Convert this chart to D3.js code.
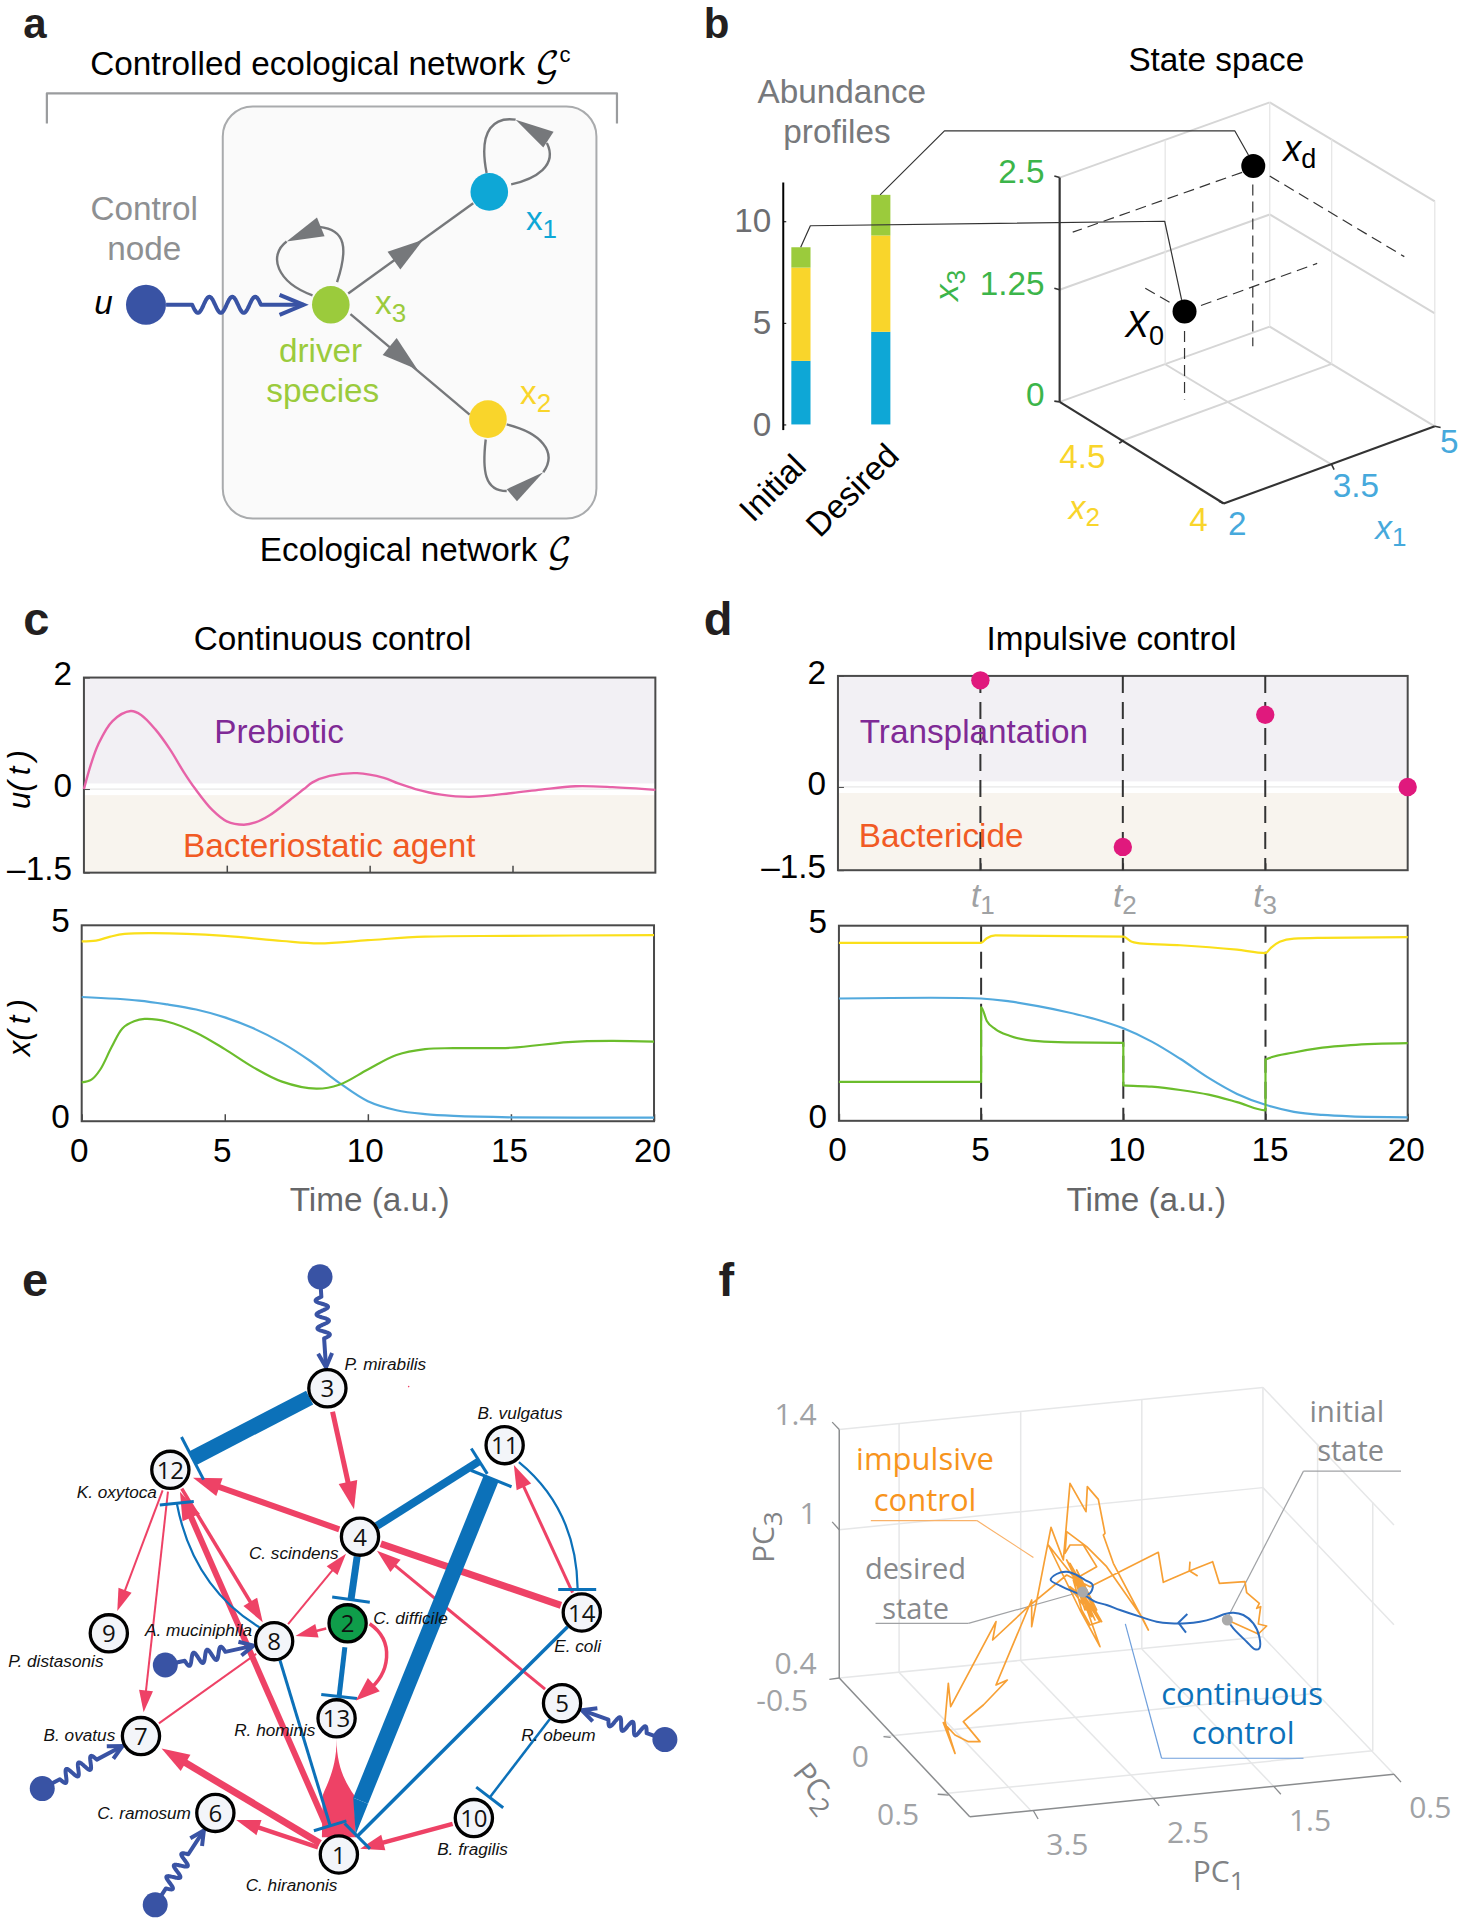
<!DOCTYPE html>
<html><head><meta charset="utf-8">
<script src="https://cdn.jsdelivr.net/npm/d3@7"></script>
<style>html,body{margin:0;padding:0;background:#fff}svg{display:block}text{font-family:"Liberation Sans",Arial,sans-serif}</style>
</head><body><div id="chart"></div>
<script>
// ---------- data ----------
// c: continuous control
const contUT=[0,0.25,0.5,1,1.64,2,2.5,3,3.5,3.9,4.5,5,5.6,6,6.5,7.2,7.7,8,8.6,9.56,10.5,11,11.6,12.5,13.5,15,16,17.2,18.5,20];
const contU=[0,0.45,0.8,1.22,1.40,1.33,1.07,0.72,0.3,0,-0.38,-0.58,-0.64,-0.6,-0.47,-0.2,0,0.12,0.235,0.285,0.2,0.1,0,-0.1,-0.14,-0.07,-0.01,0.05,0.035,-0.015];
const contYellowT=[0,0.5,1,1.5,2.5,5,7,8.3,10,12,15,20];
const contYellow=[4.59,4.61,4.71,4.78,4.80,4.73,4.6,4.54,4.62,4.71,4.73,4.75];
const contBlueT=[0,2,3,4,5,6,7,8,9,10,11,12,13,15,20];
const contBlue=[3.17,3.08,2.98,2.85,2.65,2.37,2.0,1.53,0.98,0.51,0.28,0.18,0.135,0.1,0.09];
const contGreenT=[0,0.34,0.65,1.05,1.43,1.83,2.2,3,4,5,6,7,8.2,9,10,11,12,13,15,17,18.5,20];
const contGreen=[0.99,1.06,1.32,1.9,2.375,2.55,2.61,2.54,2.26,1.84,1.375,1.01,0.83,0.93,1.32,1.69,1.84,1.865,1.875,2.02,2.05,2.03];
// d: impulsive control
const impT=[5,10,15,20];
const impU=[1.92,-1.08,1.3,0];
const impYellowT=[0,5,5.2,5.5,10,10.3,10.7,12,14,15,15.2,15.5,16,17,20];
const impYellow=[4.56,4.56,4.68,4.75,4.72,4.59,4.54,4.5,4.385,4.30,4.44,4.59,4.67,4.69,4.71];
const impBlueT=[0,5,6,7,8,9,10,11,12,13,14,15,16,17,18,20];
const impBlue=[3.135,3.135,3.06,2.94,2.79,2.61,2.37,2.03,1.59,1.1,0.69,0.41,0.23,0.15,0.115,0.09];
const impGreenT=[0,5,5,5.2,5.5,6,7,8,10,10,11,12,13,14,15,15,16,17,18,20];
const impGreen=[1,1,2.91,2.56,2.35,2.18,2.04,2.01,2,0.906,0.875,0.79,0.67,0.48,0.27,1.57,1.75,1.875,1.94,1.99];
// b: abundance bars
const barCategories=["Initial","Desired"];
const barBlue=[3.13,4.56], barYellow=[4.59,4.74], barGreen=[1.0,2.0];
// e: network (layout in crop units; ids 1..14)
const nodeIds=[1,2,3,4,5,6,7,8,9,10,11,12,13,14];
const nodeX=[738,757,713,784,1224,469,307,597,237,1032,1099,371,733,1267];
const nodeY=[1417,884,342,684,1068,1321,1144,925,907,1333,473,530,1103,859];
const speciesNames=["C. hiranonis","C. difficile","P. mirabilis","C. scindens","R. obeum","C. ramosum","B. ovatus","A. muciniphila","P. distasonis","B. fragilis","B. vulgatus","K. oxytoca","R. hominis","E. coli"];
const speciesX=[535,813,750,542,1135,212,95,316,18,952,1040,167,510,1207];
const speciesY=[1502,885,300,736,1155,1336,1155,912,985,1418,412,596,1143,950];
// from,to,width,startGap,endGap
const redEdges=[[3,4,5,24,28],[4,12,6,22,24],[14,4,7,22,22],[14,11,3,22,22],[5,4,3,22,22],[12,9,2,22,24],[12,7,2,22,24],[12,8,3.5,22,22],[1,12,6,26,24],[8,4,2,22,22],[7,8,2,22,22],[2,8,2.5,22,22],[1,7,7,22,24],[1,6,4.5,22,22],[10,1,4.5,22,22]];
const redNoHead=[[14,4],[7,8]];
const blueEdges=[[3,12,15.5,20,25],[4,11,8,20,30],[1,11,16,58,36],[4,2,7,20,24],[2,13,5,24,22],[14,1,3.5,20,26],[5,10,2.5,20,26],[8,1,3,20,30]];
const blueBarHalf=[24,15,22,19,18,18,17,17];
const controlX=[697,360,92,338,1448], controlY=[85,980,1265,1533,1152], controlTo=[3,8,7,6,5];
// f: trajectories (crop units)
const trajBlueX=[982,1000,1040,1065,1078,1078,1060,1030,1000,975,940,900,860,810,770,720,660,620,585,560,520,480,452,470,500,530,555,578,570,550];
const trajBlueY=[600,625,665,688,685,650,610,585,578,582,595,605,610,610,605,590,570,555,545,530,515,497,480,462,455,465,480,495,520,525];
const trajOrangeX=[982,1075,1100,1075,1082,1070,1078,1040,1035,958,938,870,790,775,570,500,385,278,288,152,145,135,165,130,165,205,240,190,250,322,288,395,395,453,490,510,558,562,595,615,610,640,745,725,620,560,500,495,510,550,590,520,600,570,545,520,605,500,585,510,590,530,570,520,560,445,540,600,530,565,515,555,525,575,510,560,535];
const trajOrangeY=[600,642,618,612,560,565,550,518,485,490,425,452,487,397,500,465,560,660,605,860,790,905,1000,908,945,965,965,905,855,780,795,540,620,322,420,190,275,200,238,340,345,430,630,590,440,380,335,400,375,375,440,480,605,615,570,480,605,420,600,430,570,450,540,470,520,375,570,680,480,560,450,570,470,590,500,540,510];
const greyDotX=[982,548], greyDotY=[600,516];

// ---------- set-up ----------
const W=1459,H=1920,FS=33.3;
const svg=d3.select("#chart").append("svg").attr("width",W).attr("height",H).attr("viewBox",[0,0,W,H]);
const frame=(x0,y0,w,h)=>({x:d3.scaleLinear([0,1568],[x0,x0+w]),y:d3.scaleLinear([0,1568],[y0,y0+h])});
const fa=frame(0,0,700,590),fb=frame(700,0,759,590),fc=frame(0,600,700,640),fd=frame(700,600,759,640),fe=frame(0,1240,720,680),ff=frame(720,1240,739,680);
const ft={x:d3.scaleLinear([0,1200],[900,1300]),y:d3.scaleLinear([0,1020],[1420,1760])};
const BLUE="#0ea7d6",YEL="#f9d52b",GRN="#9bcb3c",NAVY="#3953a4",RED="#ee4266",NET="#0c71b9";
const HV='"Liberation Sans",Arial,sans-serif',OS='"Open Sans",sans-serif';

function txt(f,x,y,s,o={}){
  const px=f.x(x),py=f.y(y);
  const t=svg.append("text").attr("x",px).attr("y",py).text(s)
    .attr("font-size",o.size||FS).attr("fill",o.fill||"#000")
    .attr("text-anchor",o.anchor||"start").style("font-family",o.family||HV);
  if(o.italic)t.attr("font-style","italic");
  if(o.bold)t.attr("font-weight","bold");
  if(o.rotate!=null)t.attr("transform",`rotate(${o.rotate},${px},${py})`);
  if(o.sub){t.append("tspan").attr("dy",o.subDy||8).attr("font-size",o.subSize||(o.size||FS)*0.72).attr("font-style",o.subItalic?"italic":"normal").text(o.sub);}
  return t;
}
function seg(f,arr,stroke,w,dash){
  svg.append("g").selectAll("line").data(arr).join("line")
    .attr("x1",d=>f.x(d[0])).attr("y1",d=>f.y(d[1])).attr("x2",d=>f.x(d[2])).attr("y2",d=>f.y(d[3]))
    .attr("stroke",stroke).attr("stroke-width",w).attr("stroke-dasharray",dash||null);
}
function poly(f,pts,stroke,w){
  svg.append("path").attr("d",d3.line().x(d=>f.x(d[0])).y(d=>f.y(d[1]))(pts)).attr("fill","none").attr("stroke",stroke).attr("stroke-width",w).attr("stroke-linejoin","round");
}
function head(px,py,qx,qy,len,hw,fill){ // tip at q, direction p->q, px units
  const a=Math.atan2(qy-py,qx-px),c=Math.cos(a),s=Math.sin(a);
  svg.append("path").attr("d",`M${qx},${qy}L${qx-len*c-hw*s},${qy-len*s+hw*c}L${qx-len*c+hw*s},${qy-len*s-hw*c}Z`).attr("fill",fill);
}
function wiggle(x1,y1,x2,y2,o){
  const dx=x2-x1,dy=y2-y1,L=Math.hypot(dx,dy),ux=dx/L,uy=dy/L,nx=-uy,ny=ux;
  const a=o.from*L,b=o.to*L,n=o.periods,pts=[[x1,y1]];
  for(let i=0;i<=120;i++){const t=i/120,d=a+(b-a)*t,v=o.amp*Math.sin(t*n*2*Math.PI);pts.push([x1+ux*d+nx*v,y1+uy*d+ny*v]);}
  pts.push([x2,y2]);
  svg.append("path").attr("d",d3.line()(pts)).attr("fill","none").attr("stroke",NAVY).attr("stroke-width",o.w).attr("stroke-linejoin","round");
  const h=o.head,hw=o.hw;
  svg.append("path").attr("d",`M${x2-ux*h+nx*hw},${y2-uy*h+ny*hw}L${x2},${y2}L${x2-ux*h-nx*hw},${y2-uy*h-ny*hw}`).attr("fill","none").attr("stroke",NAVY).attr("stroke-width",o.w);
}

// ---------- panel letters ----------
[[fa,52,101,"a",42],[fb,8,101,"b",42],[fc,52,85,"c",47],[fd,8,85,"d",47],[fe,48,128,"e",47],[ff,-3,128,"f",47]].forEach(([f,x,y,s,sz])=>txt(f,x,y,s,{size:sz,bold:true,fill:"#231f20"}));

// ---------- panel a ----------
poly(fa,[[105,328],[105,248],[1382,248],[1382,328]],"#9a9c9e",2.2);
svg.append("rect").attr("x",fa.x(499)).attr("y",fa.y(283)).attr("width",fa.x(1336)-fa.x(499)).attr("height",fa.y(1378)-fa.y(283)).attr("rx",30).attr("fill","#fafafa").attr("stroke","#a9abad").attr("stroke-width",2);
txt(fa,202,198,"Controlled ecological network ").call(t=>t.append("tspan").attr("font-family",'"DejaVu Math TeX Gyre","DejaVu Sans"').text("𝒢")).call(t=>t.append("tspan").attr("dy",-13).attr("font-size",22).text("c"));
txt(fa,582,1490,"Ecological network ").call(t=>t.append("tspan").attr("font-family",'"DejaVu Math TeX Gyre","DejaVu Sans"').text("𝒢"));
txt(fa,323,585,"Control",{anchor:"middle",fill:"#8e9092"});
txt(fa,323,690,"node",{anchor:"middle",fill:"#8e9092"});
txt(fa,232,835,"u",{anchor:"middle",italic:true});
// gray edges
const aGrey="#76787b";
seg(fa,[[780,780,1060,540],[785,835,1052,1102]],aGrey,2.4);
[[780,780,948,637],[785,835,935,982]].forEach(d=>head(fa.x(d[0]),fa.y(d[1]),fa.x(d[2]),fa.y(d[3]),36,11,aGrey));
const loop=(d)=>svg.append("path").attr("d",d).attr("fill","none").attr("stroke",aGrey).attr("stroke-width",2.4);
const P=(x,y)=>`${fa.x(x)},${fa.y(y)}`;
loop(`M${P(1090,460)}C${P(1070,340)} ${P(1110,310)} ${P(1155,318)}`);
loop(`M${P(1225,380)}C${P(1250,440)} ${P(1200,475)} ${P(1145,490)}`);
loop(`M${P(755,750)}C${P(780,660)} ${P(775,610)} ${P(715,603)}`);
loop(`M${P(700,785)}C${P(620,750)} ${P(600,680)} ${P(642,642)}`);
loop(`M${P(1135,1128)}C${P(1210,1150)} ${P(1250,1200)} ${P(1217,1255)}`);
loop(`M${P(1135,1305)}C${P(1085,1305)} ${P(1080,1250)} ${P(1088,1168)}`);
[[[1155,318],[1240,350],[1217,392]],[[710,578],[727,628],[642,642]],[[1217,1255],[1135,1300],[1158,1332]]].forEach(t=>
  svg.append("path").attr("d",d3.line().x(d=>fa.x(d[0])).y(d=>fa.y(d[1])).curve(d3.curveLinearClosed)(t)).attr("fill",aGrey));
wiggle(fa.x(372),fa.y(810),fa.x(680),fa.y(810),{from:0.19,to:0.69,periods:3,amp:8,w:4,head:24,hw:10});
[[327,810,20,NAVY],[741,810,18.8,GRN],[1096,510,18.8,BLUE],[1093,1114,18.8,YEL]].forEach(d=>svg.append("circle").attr("cx",fa.x(d[0])).attr("cy",fa.y(d[1])).attr("r",d[2]).attr("fill",d[3]));
txt(fa,1178,610,"x",{fill:BLUE,sub:"1",subSize:26});
txt(fa,840,835,"x",{fill:GRN,sub:"3",subSize:26});
txt(fa,1165,1075,"x",{fill:YEL,sub:"2",subSize:26});
txt(fa,718,962,"driver",{anchor:"middle",fill:GRN});
txt(fa,723,1068,"species",{anchor:"middle",fill:GRN});

// ---------- panel b ----------
txt(fb,885,188,"State space");
txt(fb,293,275,"Abundance",{anchor:"middle",fill:"#77797c"});
txt(fb,283,380,"profiles",{anchor:"middle",fill:"#77797c"});
const barY=d3.scaleLinear([0,10],[fb.y(1128),fb.y(588)]);
const barX=d3.scaleBand(barCategories,[fb.x(126),fb.x(456)]).paddingInner(0.76).paddingOuter(0.38);
svg.append("g").attr("transform",`translate(${fb.x(172)},0)`).call(d3.axisLeft(barY).tickValues([0,5,10]).tickSize(-3).tickPadding(12).tickFormat(d3.format("d")))
  .call(g=>g.select(".domain").remove()).call(g=>g.selectAll("text").attr("font-size",FS).attr("fill","#6d6e71").attr("font-family",HV).attr("dy","0.32em")).call(g=>g.selectAll("line").attr("stroke","#000"));
seg(fb,[[172,485,172,1143]],"#000",2);
barCategories.forEach((c,i)=>{
  let base=0;
  [[barBlue[i],BLUE],[barYellow[i],YEL],[barGreen[i],GRN]].forEach(([v,col])=>{
    svg.append("rect").attr("x",barX(c)).attr("width",barX.bandwidth()).attr("y",barY(base+v)).attr("height",barY(base)-barY(base+v)).attr("fill",col);
    base+=v;
  });
});
txt(fb,223,1245,"Initial",{anchor:"end",rotate:-45});
txt(fb,415,1216,"Desired",{anchor:"end",rotate:-45});
seg(fb,[[743,472,1177,272],[1177,272,1518,535],[743,770,1177,570],[1177,570,1518,833],[743,1068,1177,868],[1177,868,1518,1133],[961,968,1305,1235],[1305,967,870,1172]],"#d6d6d6",2);
seg(fb,[[1177,272,1177,868],[1518,535,1518,1133],[961,372,961,968],[1305,370,1305,967]],"#e6e6e6",1.3);
seg(fb,[[743,472,743,1068],[743,1068,1082,1338],[1082,1338,1518,1133]],"#333",2.2);
seg(fb,[[732,468,743,472],[732,766,743,770],[732,1066,743,1068],[866,1178,875,1170],[1072,1332,1082,1338],[1305,1235,1310,1248],[1518,1133,1530,1136]],"#333",1.6);
seg(fb,[[1120,458,770,617],[1177,468,1455,682],[1142,490,1142,920],[970,803,912,760],[1035,812,1275,700],[1001,880,1001,1062]],"#333",1.2,"11 6");
poly(fb,[[372,518],[505,348],[1105,348],[1133,412]],"#333",1.2);
poly(fb,[[208,657],[228,600],[960,588],[995,797]],"#333",1.2);
[[1143,441],[1001,828]].forEach(d=>svg.append("circle").attr("cx",fb.x(d[0])).attr("cy",fb.y(d[1])).attr("r",12).attr("fill","#000"));
const g3="#3cb54a",b3="#46a9dc";
txt(fb,712,487,"2.5",{anchor:"end",fill:g3}); txt(fb,712,785,"1.25",{anchor:"end",fill:g3}); txt(fb,712,1080,"0",{anchor:"end",fill:g3});
txt(fb,532,800,"x",{fill:g3,italic:true,rotate:-90,sub:"3",subDy:7,subSize:26});
txt(fb,790,1245,"4.5",{anchor:"middle",fill:YEL}); txt(fb,1030,1412,"4",{anchor:"middle",fill:YEL});
txt(fb,762,1378,"x",{fill:YEL,italic:true,sub:"2",subDy:7,subSize:26});
txt(fb,1110,1422,"2",{anchor:"middle",fill:b3}); txt(fb,1355,1320,"3.5",{anchor:"middle",fill:b3}); txt(fb,1548,1205,"5",{anchor:"middle",fill:b3});
txt(fb,1395,1432,"x",{fill:b3,italic:true,sub:"1",subDy:7,subSize:26});
txt(fb,878,895,"X",{italic:true,size:36,sub:"0",subDy:8,subSize:27});
txt(fb,1205,428,"x",{italic:true,size:36,sub:"d",subDy:7,subSize:27});

// ---------- panels c and d ----------
const FRAME="#4a4a4a",PURP="#7f2a96",ORNG="#f15a24",CY="#fadf1a",CB="#52a9dd",CG="#6bbd2c",CP="#e763a8";
function plotUpper(f,xr,yr,bandHi,bandLo){
  const x=d3.scaleLinear([0,20],[f.x(xr[0]),f.x(xr[1])]);
  const y=d3.scaleLinear([-1.5,2],[f.y(yr[1]),f.y(yr[0])]);
  svg.append("rect").attr("x",x(0)).attr("width",x(20)-x(0)).attr("y",y(2)).attr("height",y(bandHi)-y(2)).attr("fill","#f2f0f4");
  svg.append("rect").attr("x",x(0)).attr("width",x(20)-x(0)).attr("y",y(bandLo)).attr("height",y(-1.5)-y(bandLo)).attr("fill","#f8f4ee");
  svg.append("line").attr("x1",x(0)).attr("x2",x(20)).attr("y1",y(0)).attr("y2",y(0)).attr("stroke","#e8e8e8").attr("stroke-width",1.2);
  svg.append("g").attr("transform",`translate(0,${y(-1.5)})`).call(d3.axisBottom(x).tickValues([5,10,15]).tickSizeInner(-7).tickSizeOuter(0).tickFormat(""))
    .call(g=>g.select(".domain").remove()).call(g=>g.selectAll("line").attr("stroke",FRAME).attr("stroke-width",1.5));
  svg.append("g").attr("transform",`translate(${x(0)},0)`).call(d3.axisLeft(y).tickValues([2,0,-1.5]).tickSizeInner(-6).tickSizeOuter(0).tickPadding(12).tickFormat(d=>d===-1.5?"–1.5":d))
    .call(g=>g.select(".domain").remove()).call(g=>g.selectAll("line").attr("stroke",FRAME)).call(g=>g.selectAll("text").attr("font-size",FS).attr("font-family",HV).attr("fill","#000").attr("dy","0.22em"));
  return {x,y};
}
function plotLower(f,xr,yr,labelShift){
  const x=d3.scaleLinear([0,20],[f.x(xr[0]),f.x(xr[1])]);
  const y=d3.scaleLinear([0,5],[f.y(yr[1]),f.y(yr[0])]);
  svg.append("g").attr("transform",`translate(0,${y(0)})`).call(d3.axisBottom(x).tickValues([0,5,10,15,20]).tickSizeInner(-7).tickSizeOuter(0).tickPadding(17).tickFormat(d3.format("d")))
    .call(g=>g.select(".domain").remove()).call(g=>g.selectAll("line").attr("stroke",FRAME).attr("stroke-width",1.5)).call(g=>g.selectAll("text").attr("font-size",FS).attr("font-family",HV).attr("fill","#000").attr("dx",(d,i)=>labelShift[i]));
  svg.append("g").attr("transform",`translate(${x(0)},0)`).call(d3.axisLeft(y).tickValues([5,0]).tickSize(0).tickPadding(12).tickFormat(d3.format("d")))
    .call(g=>g.select(".domain").remove()).call(g=>g.selectAll("text").attr("font-size",FS).attr("font-family",HV).attr("fill","#000").attr("dy","0.2em"));
  return {x,y};
}
function box(s){svg.append("rect").attr("x",s.x(0)).attr("width",s.x(20)-s.x(0)).attr("y",s.y.range()[1]).attr("height",s.y.range()[0]-s.y.range()[1]).attr("fill","none").attr("stroke",FRAME).attr("stroke-width",2);}
function curve(s,ts,vs,col,w,cv){
  svg.append("path").attr("d",d3.line().x(d=>s.x(d[0])).y(d=>s.y(d[1])).curve(cv||d3.curveCatmullRom.alpha(0.5))(d3.zip(ts,vs))).attr("fill","none").attr("stroke",col).attr("stroke-width",w||2.2).attr("stroke-linejoin","round");
}
// c
txt(fc,745,122,"Continuous control",{anchor:"middle"});
const cu=plotUpper(fc,[188,1468],[190,668],0.1,-0.11);
box(cu); curve(cu,contUT,contU,CP,2.4);
txt(fc,480,350,"Prebiotic",{fill:PURP}); txt(fc,410,630,"Bacteriostatic agent",{fill:ORNG});
const cl=plotLower(fc,[183,1465],[797,1277],[-3,-3,-3,-2,-2]);
box(cl); curve(cl,contYellowT,contYellow,CY); curve(cl,contBlueT,contBlue,CB); curve(cl,contGreenT,contGreen,CG);
txt(fc,68,440,"u(\u2009t\u2009)",{italic:true,rotate:-90,anchor:"middle",size:31});
txt(fc,68,1048,"x(\u2009t\u2009)",{italic:true,rotate:-90,anchor:"middle",size:31});
txt(fc,828,1497,"Time (a.u.)",{anchor:"middle",fill:"#666769"});
// d
txt(fd,850,122,"Impulsive control",{anchor:"middle"});
const du=plotUpper(fd,[285,1462],[186,662],0.1,-0.11);
box(du);
const dashT=[5,10,15];
svg.append("g").selectAll("line").data(dashT).join("line").attr("x1",d=>du.x(d)).attr("x2",d=>du.x(d)).attr("y1",du.y(2)).attr("y2",du.y(-1.5)).attr("stroke","#333").attr("stroke-width",2).attr("stroke-dasharray","17 9");
txt(fd,330,350,"Transplantation",{fill:PURP}); txt(fd,328,605,"Bactericide",{fill:ORNG});
svg.append("g").selectAll("circle").data(d3.zip(impT,impU)).join("circle").attr("cx",d=>du.x(d[0])).attr("cy",d=>du.y(d[1])).attr("r",9.2).attr("fill","#e0197d");
const dl=plotLower(fd,[287,1462],[798,1276],[-2,-1,3,4,-2]);
svg.append("g").selectAll("line").data(dashT).join("line").attr("x1",d=>dl.x(d)).attr("x2",d=>dl.x(d)).attr("y1",dl.y(5)).attr("y2",dl.y(0)).attr("stroke","#333").attr("stroke-width",2).attr("stroke-dasharray","17 9");
box(dl);
const mono=d3.curveMonotoneX;
curve(dl,impYellowT,impYellow,CY,2.2,mono); curve(dl,impBlueT,impBlue,CB,2.2); curve(dl,impGreenT,impGreen,CG,2.2,mono);
[["1",560],["2",853],["3",1143]].forEach(([n,x])=>txt(fd,x,752,"t",{italic:true,fill:"#a0a2a4",sub:n,subDy:7,subSize:26}));
txt(fd,922,1497,"Time (a.u.)",{anchor:"middle",fill:"#666769"});

// ---------- panel e ----------
const nid=id=>nodeIds.indexOf(id);
const NX=id=>fe.x(nodeX[nid(id)]),NY=id=>fe.y(nodeY[nid(id)]);
function endpoints(a,b,g0,g1){
  const x0=NX(a),y0=NY(a),x1=NX(b),y1=NY(b),L=Math.hypot(x1-x0,y1-y0),ux=(x1-x0)/L,uy=(y1-y0)/L;
  return {x0:x0+ux*g0,y0:y0+uy*g0,x1:x1-ux*g1,y1:y1-uy*g1,ux,uy};
}
const noHead=new Set(redNoHead.map(d=>d.join("-")));
// 13 -> 1 taper
const t13=fe.y(1150);
svg.append("path").attr("d",`M${NX(13)},${t13}C${NX(13)},${fe.y(1215)} ${fe.x(716)},${fe.y(1245)} ${fe.x(703)},${fe.y(1280)}L${fe.x(701)},${fe.y(1377)}L${fe.x(775)},${fe.y(1377)}L${fe.x(771)},${fe.y(1280)}C${fe.x(752)},${fe.y(1250)} ${NX(13)},${fe.y(1215)} ${NX(13)},${t13}Z`).attr("fill",RED);
redEdges.forEach(([a,b,w,g0,g1])=>{
  const e=endpoints(a,b,g0,g1),nh=noHead.has(a+"-"+b);
  const L=w>=5?28:w>=3?24:22;
  svg.append("line").attr("x1",e.x0).attr("y1",e.y0).attr("x2",nh?e.x1:e.x1-e.ux*(L-4)).attr("y2",nh?e.y1:e.y1-e.uy*(L-4)).attr("stroke",RED).attr("stroke-width",w);
  if(!nh)head(e.x0,e.y0,e.x1,e.y1,L,w>=5?9.5:w>=3?8:7,RED);
});
function tbar(x,y,ux,uy,half,w){
  svg.append("line").attr("x1",x-uy*half).attr("y1",y+ux*half).attr("x2",x+uy*half).attr("y2",y-ux*half).attr("stroke",NET).attr("stroke-width",w||3);
}
blueEdges.forEach(([a,b,w,g0,g1],i)=>{
  const e=endpoints(a,b,g0,g1);
  svg.append("line").attr("x1",e.x0).attr("y1",e.y0).attr("x2",e.x1).attr("y2",e.y1).attr("stroke",NET).attr("stroke-width",w);
  tbar(e.x1,e.y1,e.ux,e.uy,blueBarHalf[i]);
  if(a===1&&b===11){ // thick edge narrows to a point at node 1
    const nx=-e.uy*w/2,ny=e.ux*w/2;
    svg.append("path").attr("d",`M${e.x0+nx},${e.y0+ny}L${e.x0-nx},${e.y0-ny}L${NX(1)+17},${NY(1)-17}L${NX(1)+16},${NY(1)-18}Z`).attr("fill",NET);
  }
});
// curved inhibitions and curved activation
const Q=(x,y)=>`${fe.x(x)},${fe.y(y)}`;
svg.append("path").attr("d",`M${Q(1130,512)}Q${Q(1255,620)} ${Q(1258,804)}`).attr("fill","none").attr("stroke",NET).attr("stroke-width",2.2);
tbar(fe.x(1257),fe.y(806),0,1,19);
svg.append("path").attr("d",`M${Q(565,893)}Q${Q(420,800)} ${Q(385,607)}`).attr("fill","none").attr("stroke",NET).attr("stroke-width",2.2);
tbar(fe.x(385),fe.y(607),0.1,1,17);
svg.append("path").attr("d",`M${Q(805,885)}C${Q(860,925)} ${Q(850,1000)} ${Q(800,1040)}`).attr("fill","none").attr("stroke",RED).attr("stroke-width",3.5);
head(fe.x(825),fe.y(1015),fe.x(775),fe.y(1062),24,9,RED);
// control inputs
controlX.forEach((cx,i)=>{
  const x0=fe.x(cx),y0=fe.y(controlY[i]),tx=NX(controlTo[i]),ty=NY(controlTo[i]);
  const L=Math.hypot(tx-x0,ty-y0),ux=(tx-x0)/L,uy=(ty-y0)/L;
  wiggle(x0,y0,tx-ux*21,ty-uy*21,{from:0.22,to:0.68,periods:3,amp:6,w:4,head:14,hw:7});
  svg.append("circle").attr("cx",x0).attr("cy",y0).attr("r",12.5).attr("fill",NAVY);
});
svg.append("g").selectAll("circle").data(nodeIds).join("circle").attr("cx",NX).attr("cy",NY).attr("r",18.6)
  .attr("fill",d=>d===2?"#0f9d4a":"#f3f5f9").attr("stroke","#000").attr("stroke-width",3.3);
svg.append("g").selectAll("text").data(nodeIds).join("text").attr("x",NX).attr("y",d=>NY(d)+9).attr("text-anchor","middle").attr("font-size",24).style("font-family",OS).attr("fill","#111").text(d=>d);
speciesNames.forEach((s,i)=>txt(fe,speciesX[i],speciesY[i],s,{size:17.2,italic:true,fill:"#111"}));
svg.append("circle").attr("cx",fe.x(890)).attr("cy",fe.y(338)).attr("r",0.8).attr("fill",RED);

// ---------- panel f ----------
const fGrid="#e6e7e8",fAxis="#8a8c8e",fTxt="#a0a2a5";
seg(ff,[[253,437,1152,340],[253,668,1152,571],[253,1010,1152,915],[1152,340,1430,657],[1152,571,1430,887],[1152,915,1430,1232],[1152,340,1152,915],[380,423,380,997],[638,397,638,970],[895,368,895,943],[1268,470,1268,1045],[1385,605,1385,1178],[380,997,660,1316],[638,970,920,1288],[895,943,1175,1260],[347,1145,1268,1045],[462,1278,1385,1178]],fGrid,1.5);
seg(ff,[[253,437,253,1010],[253,1010,530,1330],[530,1330,1430,1232]],fAxis,1.5);
seg(ff,[[238,420,253,437],[238,650,253,668],[232,1013,253,1010],[347,1145,362,1147],[462,1278,485,1280],[665,1316,675,1335],[920,1288,932,1305],[1175,1260,1190,1278],[1430,1232,1445,1250]],fAxis,1.3);
txt(ff,205,427,"1.4",{anchor:"end",fill:fTxt,family:OS,size:30});
txt(ff,205,655,"1",{anchor:"end",fill:fTxt,family:OS,size:30});
txt(ff,205,1000,"0.4",{anchor:"end",fill:fTxt,family:OS,size:30});
txt(ff,187,1085,"-0.5",{anchor:"end",fill:fTxt,family:OS,size:30});
txt(ff,298,1215,"0",{anchor:"middle",fill:fTxt,family:OS,size:30});
txt(ff,378,1350,"0.5",{anchor:"middle",fill:fTxt,family:OS,size:30});
txt(ff,737,1417,"3.5",{anchor:"middle",fill:fTxt,family:OS,size:30});
txt(ff,993,1390,"2.5",{anchor:"middle",fill:fTxt,family:OS,size:30});
txt(ff,1252,1362,"1.5",{anchor:"middle",fill:fTxt,family:OS,size:30});
txt(ff,1507,1333,"0.5",{anchor:"middle",fill:fTxt,family:OS,size:30});
txt(ff,1003,1480,"PC",{fill:"#808285",family:OS,size:30,sub:"1",subSize:26,subDy:8});
txt(ff,115,745,"PC",{fill:"#808285",family:OS,size:30,rotate:-90,sub:"3",subSize:26,subDy:8});
txt(ff,152,1229,"PC",{fill:"#808285",family:OS,size:30,rotate:52,sub:"2",subSize:26,subDy:8});
seg(ff,[[320,647,545,647],[545,647,665,732]],"#f9b26a",1.2);
seg(ff,[[330,884,527,884],[527,884,770,810]],"#a0a2a5",1.2);
seg(ff,[[1445,533,1238,533],[1238,533,1075,875]],"#a0a2a5",1.2);
seg(ff,[[860,885,937,1195],[937,1195,1238,1195]],"#6f9fdc",1.2);
const tline=d3.line().x(d=>ft.x(d[0])).y(d=>ft.y(d[1]));
svg.append("path").attr("d",tline(d3.zip(trajOrangeX,trajOrangeY))).attr("fill","none").attr("stroke","#f7a035").attr("stroke-width",1.7).attr("stroke-linejoin","round");
svg.append("path").attr("d",tline.curve(d3.curveCatmullRom)(d3.zip(trajBlueX,trajBlueY))).attr("fill","none").attr("stroke","#2b6cbf").attr("stroke-width",2);
tline.curve(d3.curveLinear);
poly(ft,[[893,468],[868,452],[870,425]],"#f7a035",1.7);
poly(ft,[[862,582],[835,608],[858,638]],"#2b6cbf",2);
svg.append("g").selectAll("circle").data(d3.zip(greyDotX,greyDotY)).join("circle").attr("cx",d=>ft.x(d[0])).attr("cy",d=>ft.y(d[1])).attr("r",5.5).attr("fill","#aaa");
txt(ff,435,530,"impulsive",{anchor:"middle",fill:"#f7941d",family:OS,size:31});
txt(ff,435,625,"control",{anchor:"middle",fill:"#f7941d",family:OS,size:31});
txt(ff,415,782,"desired",{anchor:"middle",fill:"#87898c",family:OS,size:29});
txt(ff,415,873,"state",{anchor:"middle",fill:"#87898c",family:OS,size:29});
txt(ff,1330,420,"initial",{anchor:"middle",fill:"#87898c",family:OS,size:29.5});
txt(ff,1338,510,"state",{anchor:"middle",fill:"#87898c",family:OS,size:29});
txt(ff,1108,1072,"continuous",{anchor:"middle",fill:NET,family:OS,size:31});
txt(ff,1110,1163,"control",{anchor:"middle",fill:NET,family:OS,size:31});
</script></body></html>
